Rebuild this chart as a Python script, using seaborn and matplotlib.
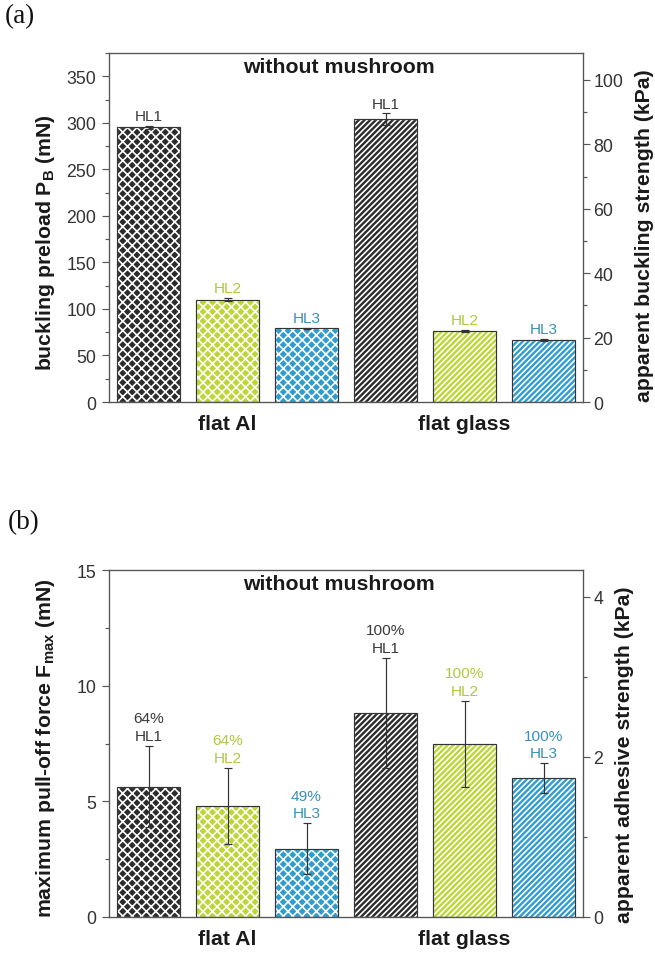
import numpy as np
import pandas as pd
import matplotlib
matplotlib.use("Agg")
import matplotlib.pyplot as plt
from matplotlib.patches import Rectangle
from matplotlib.ticker import MultipleLocator
import seaborn as sns

# ---------------- data ----------------
substrates = ["flat Al", "flat glass"]
layers = ["HL1", "HL2", "HL3"]

preload_HL1 = [295, 304]
preload_HL2 = [110, 76]
preload_HL3 = [79, 67]
preload_err_HL1 = [2.0, 6.0]
preload_err_HL2 = [1.5, 1.2]
preload_err_HL3 = [1.0, 1.0]

pulloff_HL1 = [5.64, 8.81]
pulloff_HL2 = [4.79, 7.48]
pulloff_HL3 = [2.95, 6.01]
pulloff_err_HL1 = [1.77, 2.38]
pulloff_err_HL2 = [1.64, 1.86]
pulloff_err_HL3 = [1.10, 0.63]

success_HL1 = ["64%", "100%"]
success_HL2 = ["64%", "100%"]
success_HL3 = ["49%", "100%"]

mN_per_kPa = 3.46  # conversion for the secondary axes

panel_title = "without mushroom"

# ---------------- style ----------------
DPI = 85
sns.set_style("ticks")
plt.rcParams["font.family"] = ["Liberation Sans", "DejaVu Sans"]
plt.rcParams["mathtext.fontset"] = "custom"
plt.rcParams["mathtext.rm"] = "Liberation Sans"
plt.rcParams["mathtext.bf"] = "Liberation Sans:bold"
plt.rcParams["mathtext.it"] = "Liberation Sans:italic"
plt.rcParams["hatch.linewidth"] = 1.4

bar_colors = {"HL1": "#2b2b2b", "HL2": "#bdd635", "HL3": "#2f9ccf"}
text_colors = {"HL1": "#3a3a3a", "HL2": "#b0c83c", "HL3": "#3a8fb8"}
hatches = {"flat Al": "xxx", "flat glass": "/////"}
edge_dark = "#333333"
spine_col = "#555555"
tick_col = "#333333"

FS_LABEL = 18
FS_TICK = 15
FS_ANN = 13


def make_df(v1, v2, v3):
    rows = []
    for layer, vals in zip(layers, [v1, v2, v3]):
        for sub, v in zip(substrates, vals):
            rows.append({"substrate": sub, "layer": layer, "value": v})
    return pd.DataFrame(rows)


def draw_panel(ax, df, errs, labels, ylim, major, minor, rmajor, rminor,
               ylabel, rlabel, two_line, rlabel_y):
    sns.barplot(data=df, x="substrate", y="value", hue="layer",
                order=substrates, hue_order=layers,
                palette=bar_colors, saturation=1, width=1.0, gap=0.19,
                errorbar=None, legend=False, ax=ax, zorder=2)
    for i, layer in enumerate(layers):
        cont = ax.containers[i]
        for j, sub in enumerate(substrates):
            bar = cont[j]
            bar.set_hatch(hatches[sub])
            bar.set_edgecolor("white")
            bar.set_linewidth(1.0)
            ax.add_patch(Rectangle(bar.get_xy(), bar.get_width(), bar.get_height(),
                                   fill=False, edgecolor=edge_dark, lw=1.0, zorder=3))
            xc = bar.get_x() + bar.get_width() / 2
            h = bar.get_height()
            e = errs[i][j]
            ax.errorbar([xc], [h], yerr=[e], fmt="none", ecolor=edge_dark,
                        elinewidth=1.0, capsize=3, capthick=1.0, zorder=4)
            txt = f"{labels[i][j]}\n{layer}" if two_line else layer
            ax.annotate(txt, (xc, h + e), xytext=(0, 2.5), textcoords="offset points",
                        ha="center", va="bottom", fontsize=FS_ANN,
                        color=text_colors[layer], linespacing=1.35)

    ax.set_ylim(*ylim)
    ax.set_xlim(-0.5, 1.5)
    ax.yaxis.set_major_locator(MultipleLocator(major))
    ax.yaxis.set_minor_locator(MultipleLocator(minor))
    ax.set_xlabel("")
    ax.set_ylabel(ylabel, fontsize=FS_LABEL, fontweight="bold", color="#1a1a1a")
    ax.tick_params(axis="x", length=0, pad=10, labelsize=FS_LABEL, colors="#1a1a1a")
    for t in ax.get_xticklabels():
        t.set_fontweight("bold")
    ax.tick_params(axis="y", which="major", direction="out", length=6, width=1,
                   labelsize=FS_TICK, colors=spine_col, labelcolor=tick_col, pad=5)
    ax.tick_params(axis="y", which="minor", direction="out", length=3.5, width=1,
                   colors=spine_col)
    for s in ax.spines.values():
        s.set_color(spine_col)
        s.set_linewidth(1.0)
        s.set_visible(True)

    ax.text(0.485, 0.96, panel_title, transform=ax.transAxes, ha="center", va="center",
            fontsize=FS_LABEL, fontweight="bold", color="#1a1a1a")

    axr = ax.twinx()
    axr.set_ylim(ylim[0] / mN_per_kPa, ylim[1] / mN_per_kPa)
    axr.yaxis.set_major_locator(MultipleLocator(rmajor))
    axr.yaxis.set_minor_locator(MultipleLocator(rminor))
    axr.tick_params(axis="y", which="major", direction="out", length=6, width=1,
                    labelsize=FS_TICK, colors=spine_col, labelcolor=tick_col, pad=3)
    axr.tick_params(axis="y", which="minor", direction="out", length=3.5, width=1,
                    colors=spine_col)
    axr.set_ylabel(rlabel, fontsize=FS_LABEL, fontweight="bold", color="#1a1a1a",
                   labelpad=10)
    axr.yaxis.label.set_y(rlabel_y)
    for s in axr.spines.values():
        s.set_color(spine_col)
        s.set_linewidth(1.0)
    return axr


fig = plt.figure(figsize=(655 / DPI, 955 / DPI), dpi=DPI)
W, H = 655, 955
ax_a = fig.add_axes([109 / W, 1 - 403 / H, 474 / W, 349 / H])
ax_b = fig.add_axes([109 / W, 1 - 918 / H, 474 / W, 347 / H])

df_a = make_df(preload_HL1, preload_HL2, preload_HL3)
draw_panel(ax_a, df_a,
           [preload_err_HL1, preload_err_HL2, preload_err_HL3],
           [success_HL1, success_HL2, success_HL3],
           (0, 375), 50, 25, 20, 10,
           r"buckling preload P$_{\mathbf{B}}$ (mN)",
           "apparent buckling strength (kPa)", two_line=False, rlabel_y=0.478)
ax_a.yaxis.set_label_coords(-0.11, 0.46)

df_b = make_df(pulloff_HL1, pulloff_HL2, pulloff_HL3)
draw_panel(ax_b, df_b,
           [pulloff_err_HL1, pulloff_err_HL2, pulloff_err_HL3],
           [success_HL1, success_HL2, success_HL3],
           (0, 15), 5, 2.5, 2, 1,
           r"maximum pull-off force F$_{\mathbf{max}}$ (mN)",
           "apparent adhesive strength (kPa)", two_line=True, rlabel_y=0.47)
ax_b.yaxis.set_label_coords(-0.11, 0.49)

fig.text(20 / W, 1 - 17 / H, "(a)", family=["Liberation Serif", "DejaVu Serif"],
         fontsize=23, ha="center", va="center", color="#111111")
fig.text(24 / W, 1 - 523 / H, "(b)", family=["Liberation Serif", "DejaVu Serif"],
         fontsize=23, ha="center", va="center", color="#111111")

fig.savefig("out.png", dpi=DPI)
